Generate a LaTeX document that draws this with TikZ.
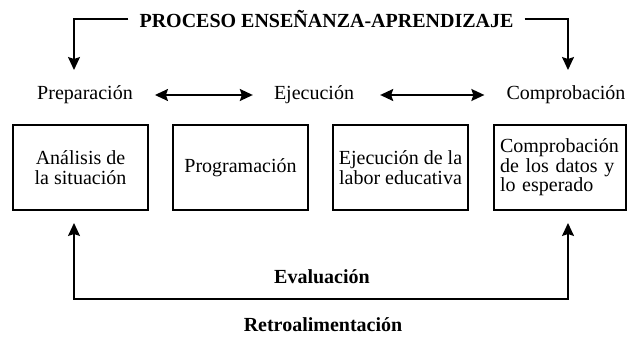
\documentclass[tikz,border=0pt]{standalone}
\usepackage{fontspec}
\setmainfont{Liberation Serif}
\usetikzlibrary{arrows.meta}

\begin{document}
\begin{tikzpicture}[x = 1pt, y = 1pt,
        every node/.style = {font = \rmfamily\fontsize{20}{19.5}\selectfont},
        negrita/.style = {font = \rmfamily\bfseries\fontsize{20}{19.5}\selectfont},
        etapa/.style = {draw, rectangle, line width = 1.4pt, minimum width = 135pt, minimum height = 85pt, inner sep = 1pt, align = center},
        flecha/.style = {-{Stealth[length = 13pt, width = 12pt, inset = 2pt]}, line width = 1.6pt},
        doble/.style = {{Stealth[length = 13pt, width = 12pt, inset = 2pt]}-{Stealth[length = 13pt, width = 12pt, inset = 2pt]}, line width = 1.6pt}]

        \useasboundingbox (0pt, 0pt) rectangle (627pt, -337pt);

        % Titulo
        \node [negrita, inner xsep = 11pt, inner ysep = 0pt] (titulo) at (326.5pt, -19pt) {PROCESO ENSEÑANZA-APRENDIZAJE};
        \coordinate (izq) at (74pt, -70pt);
        \coordinate (der) at (568pt, -70pt);

        % Fases
        \node [inner xsep = 0pt] (prep) at (85pt, -95pt) {Preparación};
        \node [inner xsep = 0pt] (ejec) at (314pt, -95pt) {Ejecución};
        \node [inner xsep = 0pt] (comp) at (566pt, -95pt) {Comprobación};

        % Cajas
        \node [etapa] (analisis) at (80.5pt, -167.5pt) {Análisis de\\la situación};
        \node [etapa] (program) at (240.5pt, -167.5pt) {Programación};
        \node [etapa] (labor) at (400.5pt, -167.5pt) {Ejecución de la\\labor educativa};
        \node [etapa, minimum width = 132pt, align = left, text width = 120pt, inner xsep = 5pt] (datos) at (560pt, -167.5pt) {Comprobación\\de los datos y\\lo esperado};

        % Textos de abajo
        \node [negrita] (eval) at (322pt, -277pt) {Evaluación};
        \node [negrita] (retro) at (323pt, -325pt) {Retroalimentación};
        \coordinate (abizq) at (74pt, -223pt);
        \coordinate (abder) at (568pt, -223pt);

        % Flechas
        \draw [flecha] (titulo.west) -| (izq);
        \draw [flecha] (titulo.east) -| (der);
        \draw [doble, shorten < = 22pt, shorten > = 21pt] (prep.east) -- (ejec.west);
        \draw [doble, shorten < = 26pt, shorten > = 22pt] (ejec.east) -- (comp.west);
        \draw [doble] (abizq) -- (abizq |- 0pt, -299pt) -- (abder |- 0pt, -299pt) -- (abder);

\end{tikzpicture}
\end{document}
